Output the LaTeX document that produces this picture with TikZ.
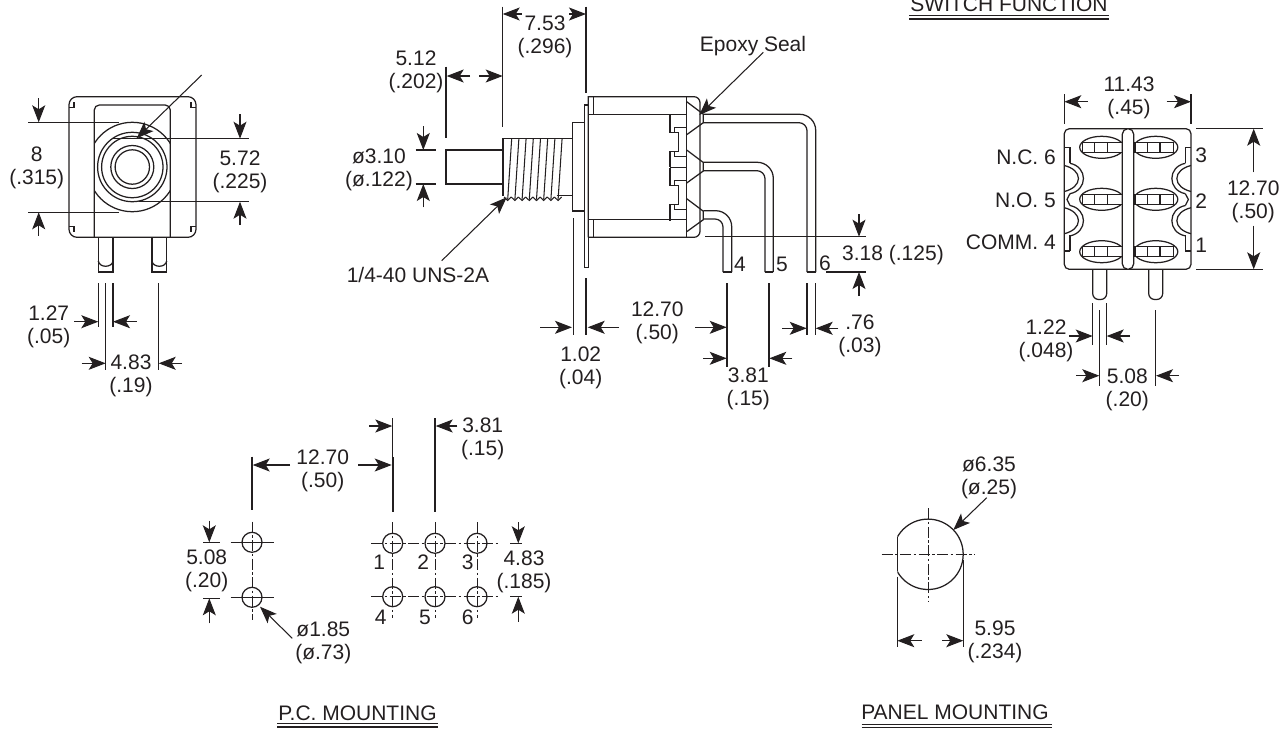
\documentclass[tikz,border=0pt]{standalone}
\usepackage{fontspec}
\setmainfont{Liberation Sans}
\definecolor{inkdark}{RGB}{35, 31, 32}
\usetikzlibrary{arrows.meta}

\begin{document}
\begin{tikzpicture}[x=1pt,y=-1pt,color=inkdark,
		part/.style={line width=1.25pt},
		extline/.style={line width=1.05pt},
		dimarrow/.style={line width=1.05pt,-{Stealth[length=17pt,width=13pt,inset=4pt]}},
		centerline/.style={line width=0.9pt,dash pattern=on 11pt off 2.5pt on 2.5pt off 2.5pt},
		labeltext/.style={inner sep=0pt,align=center,font=\fontsize{21}{23}\selectfont},
		dimtext/.style={labeltext,yshift=-2pt}]
	\useasboundingbox (0,0) rectangle (1286,729);

	% Front view
	\draw[part,rounded corners=8pt] (69,96.7) rectangle (196,237.3);
	\draw[part,rounded corners=5pt] (94.3,237.3) -- (94.3,105) -- (170.3,105) -- (170.3,237.3);
	\foreach \cx/\sx in {69/1,196/-1} {
		\draw[part] (\cx,107.5) -- ({\cx+5*\sx},107.5) -- ({\cx+5*\sx},102);
		\draw[part] (\cx,226.5) -- ({\cx+5*\sx},226.5) -- ({\cx+5*\sx},232);
	}
	\begin{scope}
		\clip (94.3,100) rectangle (170.3,237);
		\draw[part] (132.3,167) circle (44.7);
	\end{scope}
	\foreach \r in {34.7,30.7,21.5,17.2} \draw[part] (132.3,167) circle (\r);
	% Front view pins
	\foreach \px in {98.3,152} {
		\draw[part] (\px,237.3) -- (\px,272) -- ({\px+14.7},272) -- ({\px+14.7},237.3);
		\draw[part] (\px,261) .. controls ({\px+1},268) and ({\px+13.7},268) .. ({\px+14.7},261);
	}
	% Front view dimensions
	\draw[extline] (28.3,122.3) -- (119,122.3);
	\draw[extline] (28.3,212.3) -- (119,212.3);
	\draw[dimarrow] (38.7,98.3) -- (38.7,122.3);
	\draw[dimarrow] (38.7,235.7) -- (38.7,212.3);
	\node[dimtext] (frontheight) at (36.7,165.5) {8\\(.315)};
	\draw[extline] (112,138.7) -- (249,138.7);
	\draw[extline] (139,201.3) -- (249,201.3);
	\draw[dimarrow] (240,114) -- (240,138.7);
	\draw[dimarrow] (240,225) -- (240,201.7);
	\node[dimtext] (frontring) at (240,170) {5.72\\(.225)};
	\draw[dimarrow] (201.7,75) -- (136.7,138.3);
	\draw[extline] (98.3,283) -- (98.3,327);
	\draw[extline] (113,283) -- (113,327);
	\draw[extline] (105.7,283) -- (105.7,370);
	\draw[extline] (158.7,283) -- (158.7,370);
	\draw[dimarrow] (74,321.7) -- (98.3,321.7);
	\draw[dimarrow] (136.7,321.7) -- (113,321.7);
	\node[dimtext] (frontpin) at (48.7,325) {1.27\\(.05)};
	\draw[dimarrow] (81.7,363.3) -- (105.7,363.3);
	\draw[dimarrow] (182,363.3) -- (158.7,363.3);
	\node[dimtext] (frontpitch) at (131,373.5) {4.83\\(.19)};

	% Side view shaft and thread
	\draw[part] (502.7,150) -- (446,150) -- (446,184) -- (502.7,184);
	\draw[line width=1.8pt] (502.7,138.3) -- (502.7,195.7);
	\draw[part] (502.7,138.3) -- (572.7,138.3);
	\draw[part] (556.7,195.7) -- (572.7,195.7);
	\foreach \n in {0,...,7} {
		\draw[extline] ({511.7+7.2*\n},138.3) -- ({507.7+7.2*\n},199.5);
		\draw[extline] ({504+7.2*\n},197) -- ({507.7+7.2*\n},200.5) -- ({511.2+7.2*\n},197);
	}
	\draw[part] (572.7,122.3) rectangle (584.3,211);
	\draw[part] (584.3,105) rectangle (588.3,267.3);
	% Side view body
	\draw[part] (588.3,237.3) -- (588.3,96.7) [rounded corners=6pt] -- (700,96.7) -- (700,237.3) [sharp corners] -- (588.3,237.3);
	\draw[part] (593.3,96.7) -- (593.3,114.3);
	\draw[part] (593.3,219.3) -- (593.3,237.3);
	\draw[part] (588.3,114.3) -- (686.7,114.3);
	\draw[part] (588.3,219.3) -- (686.7,219.3);
	\draw[part] (686.7,96.7) -- (686.7,237.3);
	\draw[part] (670,167.7) -- (686.7,167.7);
	\foreach \ty in {114.3,167.7} {
		\draw[part] (670,\ty) -- (670,{\ty+18}) -- (674.3,{\ty+18}) -- (674.3,{\ty+13}) -- (686,{\ty+13});
		\draw[part] (674.3,{\ty+18}) -- (678.3,{\ty+18}) -- (678.3,{\ty+37}) -- (674.3,{\ty+37});
		\draw[part] (686,{\ty+42}) -- (674.3,{\ty+42}) -- (674.3,{\ty+37}) -- (670,{\ty+37}) -- (670,{\ty+53});
	}
	% Side view contacts and terminals
	\foreach \ty in {101.7,150,198.7} {
		\draw[part] (686.7,\ty) -- (703.3,{\ty+12.5}) -- (703.3,{\ty+21}) -- (686.7,{\ty+33});
	}
	\draw[part,rounded corners=16pt] (703.3,114.3) -- (815.7,114.3) -- (815.7,272);
	\draw[part,rounded corners=8pt] (703.3,122.7) -- (807,122.7) -- (807,272);
	\draw[part,rounded corners=16pt] (703.3,162.3) -- (773.3,162.3) -- (773.3,272);
	\draw[part,rounded corners=8pt] (703.3,170.7) -- (765,170.7) -- (765,272);
	\draw[part,rounded corners=16pt] (703.3,210.7) -- (731.7,210.7) -- (731.7,272);
	\draw[part,rounded corners=8pt] (703.3,219) -- (723,219) -- (723,272);
	\draw[part] (723,272) -- (731.7,272);
	\draw[part] (765,272) -- (773.3,272);
	\draw[part] (807,272) -- (815.7,272);
	\node[labeltext] (termfour) at (740,264) {4};
	\node[labeltext] (termfive) at (782,264) {5};
	\node[labeltext] (termsix) at (825,263.5) {6};
	% Side view dimensions
	\draw[extline] (502.7,6.7) -- (502.7,127);
	\draw[extline] (586,6.7) -- (586,93);
	\draw[dimarrow] (521.7,14) -- (502.7,14);
	\draw[dimarrow] (569.3,14) -- (586,14);
	\node[dimtext] (sidebush) at (545,35) {7.53\\(.296)};
	\draw[extline] (446,66.7) -- (446,138.3);
	\draw[dimarrow] (470,76) -- (446.7,76);
	\draw[dimarrow] (479.3,76) -- (502.7,76);
	\node[dimtext] (sideplunger) at (416,70) {5.12\\(.202)};
	\draw[extline] (415.7,150) -- (435.7,150);
	\draw[extline] (415.7,184) -- (435.7,184);
	\draw[dimarrow] (423.3,126) -- (423.3,150);
	\draw[dimarrow] (423.3,207.3) -- (423.3,184);
	\node[dimtext] (sidedia) at (379,167.5) {ø3.10\\(ø.122)};
	\node[labeltext] (threadlabel) at (418,275) {1/4-40 UNS-2A};
	\draw[dimarrow] (441.7,260.7) -- (506.7,197.3);
	\node[labeltext] (epoxylabel) at (753,46) {Epoxy Seal};
	\draw[dimarrow] (763.3,52.3) -- (699.3,115);
	\draw[extline] (573.3,218.3) -- (573.3,335);
	\draw[extline] (586,278.3) -- (586,335);
	\draw[dimarrow] (540,327.3) -- (572,327.3);
	\draw[dimarrow] (619,327.3) -- (587.7,327.3);
	\node[dimtext] (sideflange) at (580.7,365.7) {1.02\\(.04)};
	\node[dimtext] (sidereach) at (657.3,320.7) {12.70\\(.50)};
	\draw[dimarrow] (695,327.3) -- (726.7,327.3);
	\draw[line width=1.6pt] (727,283.3) -- (727,335);
	\draw[extline] (727,335) -- (727,366.7);
	\draw[extline] (769,283.3) -- (769,366.7);
	\draw[dimarrow] (703.3,358.3) -- (726.7,358.3);
	\draw[dimarrow] (792.3,358.3) -- (769.3,358.3);
	\node[dimtext] (sidepitch) at (748.3,387.3) {3.81\\(.15)};
	\draw[extline] (807,283.3) -- (807,335);
	\draw[extline] (815.3,283.3) -- (815.3,335);
	\draw[dimarrow] (782.3,328.3) -- (806.7,328.3);
	\draw[dimarrow] (838.3,328.3) -- (815.7,328.3);
	\node[dimtext] (sidewidth) at (860,334) {.76\\(.03)};
	\draw[extline] (705,236.7) -- (866,236.7);
	\draw[extline] (826,272) -- (866,272);
	\draw[dimarrow] (859,214) -- (859,236.7);
	\draw[dimarrow] (859,296) -- (859,272);
	\node[labeltext] (sidelength) at (893,255) {3.18 (.125)};

	% Switch function
	\node[labeltext,anchor=base] (switchtitle) at (1009,11) {SWITCH FUNCTION};
	\draw[line width=1pt] (909,15.7) -- (1109.3,15.7);
	\draw[line width=1.8pt] (909,19.3) -- (1109.3,19.3);
	\draw[part,rounded corners=5pt] (1064.3,128.7) rectangle (1191,269.3);
	\foreach \ey in {147.3,199.3,251.7} {
		\draw[part] (1101.7,\ey) ellipse (22 and 11);
		\draw[part] (1155.8,\ey) ellipse (22 and 11);
		\draw[part,fill=white] (1082.3,{\ey-5}) rectangle (1122.3,{\ey+5});
		\draw[part,fill=white] (1135,{\ey-5}) rectangle (1173.3,{\ey+5});
		\foreach \dx in {1094.3,1107.7,1147.3,1160} \draw[part] (\dx,{\ey-5}) -- (\dx,{\ey+5});
	}
	\draw[part,rounded corners=5.5pt,fill=white] (1122.3,128.7) rectangle (1133.7,269.3);
	\foreach \sx in {1,-1} {
		\begin{scope}[xshift=1127.65pt,xscale=\sx]
			\draw[part] (-63.35,147.7) -- (-57.7,147.7) -- (-57.7,163.3);
			\draw[part] (-57.7,251) -- (-57.7,235) ;
			\draw[part] (-63.35,251) -- (-57.7,251);
			\foreach \ay in {178.5,220.7} {
				\draw[part] (-57.7,{\ay-15.2}) .. controls (-49,{\ay-13.5}) and (-44.2,{\ay-7}) .. (-44.2,\ay) .. controls (-44.2,{\ay+7}) and (-49,{\ay+13.5}) .. (-57.7,{\ay+15.2});
				\draw[part] (-63.35,{\ay-13}) .. controls (-55,{\ay-11}) and (-49.2,{\ay-6}) .. (-49.2,\ay) .. controls (-49.2,{\ay+6}) and (-55,{\ay+11}) .. (-63.35,{\ay+13});
			}
			\draw[part] (-57.7,193.7) -- (-60.7,199.5) -- (-57.7,205.5);
		\end{scope}
	}
	\foreach \px in {1092.7,1148.7} {
		\draw[part,rounded corners=6pt] (\px,269.3) -- (\px,299.5) -- ({\px+14},299.5) -- ({\px+14},269.3);
	}
	\node[labeltext,anchor=east] (labelsix) at (1056,157) {N.C. 6};
	\node[labeltext,anchor=east] (labelfive) at (1056,200) {N.O. 5};
	\node[labeltext,anchor=east] (labelfour) at (1056,242.7) {COMM. 4};
	\node[labeltext] (labelthree) at (1201.3,155) {3};
	\node[labeltext] (labeltwo) at (1201.3,200.7) {2};
	\node[labeltext] (labelone) at (1201.3,245) {1};
	% Switch function dimensions
	\draw[extline] (1064.3,94) -- (1064.3,124);
	\draw[extline] (1191,94) -- (1191,124);
	\draw[dimarrow] (1087.7,101.7) -- (1064.3,101.7);
	\draw[dimarrow] (1166.7,101.7) -- (1191,101.7);
	\node[dimtext] (switchwidth) at (1129,96) {11.43\\(.45)};
	\draw[extline] (1196,128.7) -- (1262.7,128.7);
	\draw[extline] (1196,269.3) -- (1262.7,269.3);
	\draw[dimarrow] (1253.7,172.3) -- (1253.7,128.7);
	\draw[dimarrow] (1253.7,225.7) -- (1253.7,269.3);
	\node[dimtext] (switchheight) at (1253.3,199.5) {12.70\\(.50)};
	\draw[extline] (1092.7,303.3) -- (1092.7,345);
	\draw[extline] (1106.3,303.3) -- (1106.3,345);
	\draw[extline] (1099.3,310) -- (1099.3,385.7);
	\draw[extline] (1155.7,310) -- (1155.7,385.7);
	\draw[dimarrow] (1069.3,336) -- (1092.7,336);
	\draw[dimarrow] (1130,336) -- (1106.7,336);
	\node[dimtext] (switchpin) at (1046,338.7) {1.22\\(.048)};
	\draw[dimarrow] (1076,375.7) -- (1099.3,375.7);
	\draw[dimarrow] (1179,375.7) -- (1156,375.7);
	\node[dimtext] (switchpitch) at (1127.3,388.3) {5.08\\(.20)};

	% P.C. mounting holes
	\foreach \hy in {542.3,597.3} {
		\draw[part] (252,\hy) circle (10);
		\draw[extline] (230.7,\hy) -- (273.7,\hy);
	}
	\draw[centerline] (252,521.7) -- (252,620);
	\foreach \hx in {392.7,435,477} {
		\foreach \hy in {543.3,596.7} \draw[part] (\hx,\hy) circle (10);
		\draw[centerline] (\hx,522.3) -- (\hx,618.3);
	}
	\draw[centerline] (371,543.3) -- (498.3,543.3);
	\draw[centerline] (371,596.7) -- (498.3,596.7);
	\node[labeltext] (holeone) at (379.3,562.3) {1};
	\node[labeltext] (holetwo) at (423.3,562.3) {2};
	\node[labeltext] (holethree) at (467.7,562.3) {3};
	\node[labeltext] (holefour) at (380.7,617.3) {4};
	\node[labeltext] (holefive) at (425,617.3) {5};
	\node[labeltext] (holesix) at (467.7,617.3) {6};
	% P.C. mounting dimensions
	\draw[extline] (392.7,418.3) -- (392.7,457);
	\draw[line width=1.6pt] (392.7,457) -- (392.7,511.7);
	\draw[extline] (435,418.3) -- (435,511.7);
	\draw[extline] (252,456.7) -- (252,510);
	\draw[dimarrow] (290,465) -- (252.7,465);
	\draw[dimarrow] (358.3,465) -- (391.7,465);
	\node[dimtext] (pcreach) at (322.7,468.7) {12.70\\(.50)};
	\draw[dimarrow] (369,426) -- (392.3,426);
	\draw[dimarrow] (457.3,426) -- (435.7,426);
	\node[dimtext] (pcpitch) at (482.7,437.3) {3.81\\(.15)};
	\draw[extline] (203.3,542.3) -- (220,542.3);
	\draw[extline] (203.3,598.3) -- (220,598.3);
	\draw[dimarrow] (209.3,520.7) -- (209.3,542.3);
	\draw[dimarrow] (209.3,623.3) -- (209.3,598.3);
	\node[dimtext] (pcrowleft) at (206.7,569.3) {5.08\\(.20)};
	\draw[extline] (510,543.3) -- (522.3,543.3);
	\draw[extline] (510,596.7) -- (522.3,596.7);
	\draw[dimarrow] (518.3,522.3) -- (518.3,543.3);
	\draw[dimarrow] (518.3,621.7) -- (518.3,596.7);
	\node[dimtext] (pcrowright) at (524,570.3) {4.83\\(.185)};
	\node[dimtext] (pchole) at (323.3,640.7) {ø1.85\\(ø.73)};
	\draw[dimarrow] (292.3,638.3) -- (260,606.7);
	\node[labeltext] (pctitle) at (357.5,713) {P.C. MOUNTING};
	\draw[line width=1pt] (277.3,723.7) -- (437.7,723.7);
	\draw[line width=1.5pt] (277.3,727) -- (437.7,727);

	% Panel mounting
	\begin{scope}
		\clip (897.3,510) rectangle (970,600);
		\draw[part] (928,554.3) circle (35.2);
	\end{scope}
	\draw[part] (897.3,537.3) -- (897.3,570.5);
	\draw[centerline] (881.7,554.3) -- (975,554.3);
	\draw[centerline] (928,508.3) -- (928,601);
	\draw[extline] (897.3,576.7) -- (897.3,647.3);
	\draw[extline] (963.3,560) -- (963.3,647.3);
	\draw[dimarrow] (921.7,640.7) -- (897.3,640.7);
	\draw[dimarrow] (942.3,640.7) -- (963.3,640.7);
	\node[dimtext] (panelflat) at (995,640.3) {5.95\\(.234)};
	\node[dimtext] (paneldia) at (989,476) {ø6.35\\(ø.25)};
	\draw[dimarrow] (986.7,497.7) -- (953.3,530);
	\node[labeltext] (paneltitle) at (955,712.7) {PANEL MOUNTING};
	\draw[line width=1pt] (861.7,724.3) -- (1051.7,724.3);
	\draw[line width=1.5pt] (861.7,727.5) -- (1051.7,727.5);
\end{tikzpicture}
\end{document}
